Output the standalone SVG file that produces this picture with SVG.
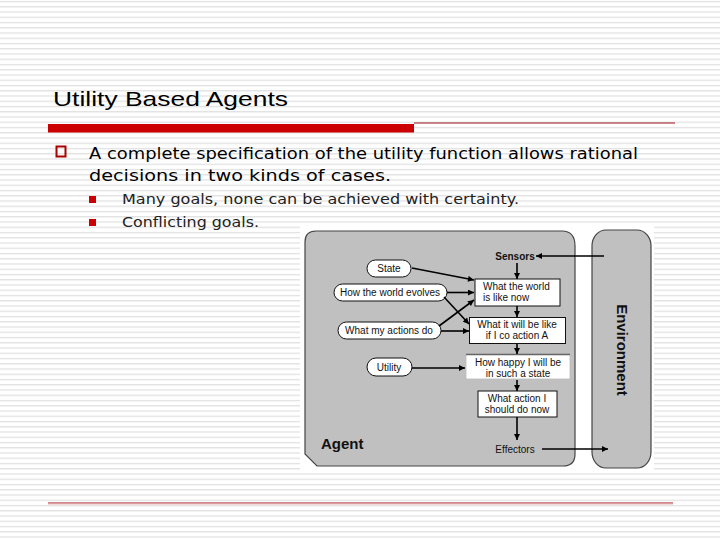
<svg xmlns="http://www.w3.org/2000/svg" width="720" height="540" viewBox="0 0 720 540">
<defs>
<pattern id="stripes" x="0" y="0" width="10" height="5.25" patternUnits="userSpaceOnUse">
<rect x="0" y="0" width="10" height="5.25" fill="#ffffff"/>
<rect x="0" y="1" width="10" height="1.1" fill="#dcdcdc"/>
</pattern>
<marker id="ah" viewBox="0 0 10 10" refX="10" refY="5" markerWidth="8" markerHeight="6" markerUnits="userSpaceOnUse" orient="auto">
<path d="M0,0 L10,5 L0,10 Z" fill="#000"/>
</marker>
<style>
.title{font-family:"Liberation Sans","DejaVu Sans",sans-serif;font-size:21px;fill:#000}
.main{font-family:"DejaVu Sans","Verdana",sans-serif;font-size:16.5px;fill:#000}
.sub{font-family:"DejaVu Sans","Verdana",sans-serif;font-size:14px;fill:#222}
.dt{font-family:"Liberation Sans","Arial",sans-serif;font-size:10px;fill:#111}
.dtc{font-family:"Liberation Sans","Arial",sans-serif;font-size:10px;fill:#111;text-anchor:middle}
.bold{font-family:"Liberation Sans","Arial",sans-serif;font-weight:bold;fill:#111}
.panel{fill:#c0c0c0;stroke:#444;stroke-width:1.2}
.box{fill:#fff;stroke:#111;stroke-width:1}
.oval{fill:#fff;stroke:#111;stroke-width:1}
.conn{stroke:#000;stroke-width:1.6;fill:none;marker-end:url(#ah)}
</style>
</defs>
<rect x="0" y="0" width="720" height="540" fill="url(#stripes)"/>

<g id="title">
<text class="title" x="53" y="106" textLength="235" lengthAdjust="spacingAndGlyphs">Utility Based Agents</text>
<rect x="48" y="124" width="366" height="8.5" fill="#cc0000"/>
<line x1="414" y1="123" x2="675" y2="123" stroke="#a0101a" stroke-width="1"/>
</g>

<g id="bullets">
<rect x="56.5" y="146.5" width="9" height="10" fill="none" stroke="#aa0000" stroke-width="2"/>
<text class="main" x="89" y="159" textLength="549" lengthAdjust="spacingAndGlyphs">A complete specification of the utility function allows rational</text>
<text class="main" x="89" y="181" textLength="302" lengthAdjust="spacingAndGlyphs">decisions in two kinds of cases.</text>
<rect x="89" y="196" width="7" height="7" fill="#cc0000"/>
<text class="sub" x="122" y="204" textLength="397" lengthAdjust="spacingAndGlyphs">Many goals, none can be achieved with certainty.</text>
<rect x="89" y="219" width="7" height="7" fill="#cc0000"/>
<text class="sub" x="122" y="227" textLength="137" lengthAdjust="spacingAndGlyphs">Conflicting goals.</text>
</g>

<rect x="300" y="225" width="354" height="245" fill="#ffffff"/>

<g id="agent">
<path class="panel" d="M305,242 Q305,231 316,231 L562,231 Q575,231 575,246 L575,454 Q575,466 563,466 L317,466 L305,454 Z"/>
<text class="bold" x="321" y="449" font-size="15">Agent</text>
</g>

<g id="environment">
<rect class="panel" x="592" y="230" width="59" height="238" rx="14" ry="16"/>
<text class="bold" font-size="15" text-anchor="middle" transform="translate(617,350) rotate(90)">Environment</text>
</g>

<g id="sensors"><text class="dtc" x="515" y="260" font-weight="bold" fill="#222">Sensors</text></g>
<g id="effectors"><text class="dtc" x="515" y="453">Effectors</text></g>

<g id="state"><rect class="oval" x="367" y="260" width="44" height="17" rx="8.5"/><text class="dtc" x="389" y="272">State</text></g>
<g id="evolves"><rect class="oval" x="334" y="284" width="113" height="17" rx="8.5"/><text class="dtc" x="390" y="296">How the world evolves</text></g>
<g id="actions"><rect class="oval" x="338" y="322" width="103" height="17" rx="8.5"/><text class="dtc" x="389" y="334">What my actions do</text></g>
<g id="utility"><rect class="oval" x="367" y="358" width="45" height="18" rx="9"/><text class="dtc" x="389" y="371">Utility</text></g>

<g id="world-now"><rect class="box" x="475" y="279" width="85" height="27"/><text class="dt" x="483" y="290">What the world</text><text class="dt" x="483" y="301">is like now</text></g>
<g id="will-be"><rect class="box" x="469.5" y="317.5" width="96" height="26"/><text class="dtc" x="517" y="328">What it will be like</text><text class="dtc" x="517" y="339">if I co action A</text></g>
<g id="happy"><rect x="466" y="354" width="104" height="25" fill="#fff" stroke="#bbb" stroke-width="0.8"/><line x1="466" y1="354.5" x2="570" y2="354.5" stroke="#666" stroke-width="1.5"/><text class="dtc" x="518" y="366">How happy I will be</text><text class="dtc" x="518" y="377">in such a state</text></g>
<g id="action"><rect class="box" x="478" y="391" width="79" height="26"/><text class="dtc" x="517" y="402">What action I</text><text class="dtc" x="517" y="413">should do now</text></g>

<g id="connectors">
<line class="conn" x1="604" y1="256" x2="536" y2="256"/>
<line class="conn" x1="517" y1="263" x2="517" y2="279"/>
<line class="conn" x1="517" y1="306" x2="517" y2="317"/>
<line class="conn" x1="517" y1="344" x2="517" y2="354"/>
<line class="conn" x1="517" y1="380" x2="517" y2="391"/>
<line class="conn" x1="517" y1="417" x2="517" y2="440"/>
<line class="conn" x1="542" y1="449" x2="608" y2="449"/>
<line class="conn" x1="412" y1="268" x2="474" y2="280"/>
<line class="conn" x1="447" y1="292.5" x2="474" y2="292.5"/>
<line class="conn" x1="444" y1="297" x2="469" y2="324"/>
<line class="conn" x1="439" y1="326" x2="474" y2="300"/>
<line class="conn" x1="441" y1="331" x2="469" y2="331"/>
<line class="conn" x1="412" y1="368" x2="465" y2="368"/>
</g>

<g id="footer">
<line x1="48" y1="503" x2="673" y2="503" stroke="#a0101a" stroke-width="1"/>
<line x1="48" y1="504.2" x2="673" y2="504.2" stroke="#f0c8c8" stroke-width="1"/>
</g>
</svg>
